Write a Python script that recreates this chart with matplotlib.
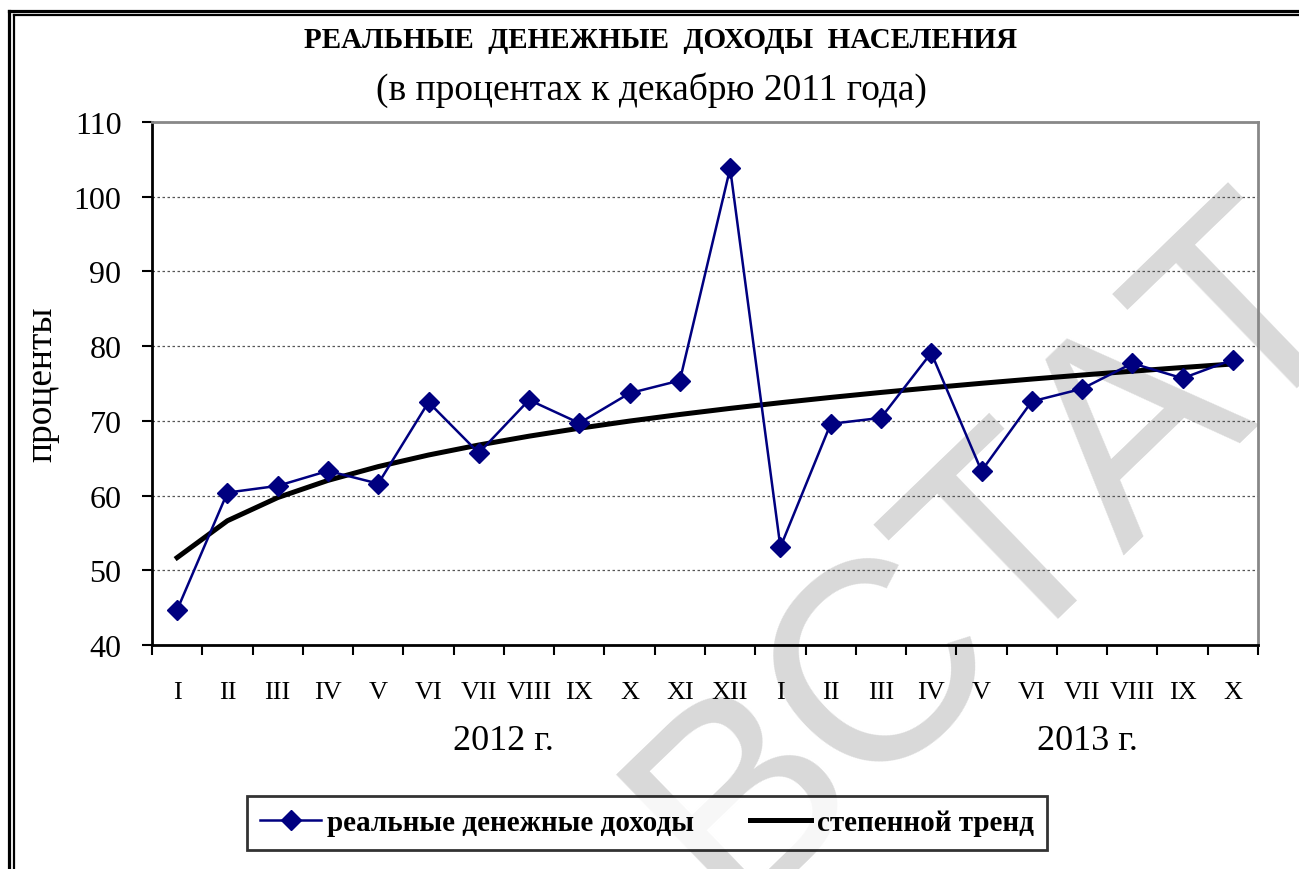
import numpy as np
import matplotlib
matplotlib.use('Agg')
import matplotlib.pyplot as plt
from matplotlib.lines import Line2D
from matplotlib.ticker import FixedLocator, NullFormatter
import matplotlib.transforms as mtransforms


# Data
months = ['I', 'II', 'III', 'IV', 'V', 'VI', 'VII', 'VIII', 'IX', 'X', 'XI', 'XII',
          'I', 'II', 'III', 'IV', 'V', 'VI', 'VII', 'VIII', 'IX', 'X']
income_2012 = [44.7, 60.4, 61.3, 63.3, 61.6, 72.5, 65.7, 72.8, 69.7, 73.7, 75.4, 103.8]
income_2013 = [53.1, 69.6, 70.4, 79.1, 63.3, 72.6, 74.3, 77.7, 75.7, 78.2]
year_labels = ['2012 г.', '2013 г.']
year_label_pos = [7.5, 19.1]

title = 'РЕАЛЬНЫЕ  ДЕНЕЖНЫЕ  ДОХОДЫ  НАСЕЛЕНИЯ'
subtitle = '(в процентах к декабрю 2011 года)'
series_name = 'реальные денежные доходы'
trend_name = 'степенной тренд'

W, H = 1299, 870
serif = 'Liberation Serif'


def fx(px):
    return px / W


def fy(py):
    return 1 - py / H


def main():
    values = np.array(income_2012 + income_2013)
    x = np.arange(1, len(values) + 1)

    # Power trend y = a * x^b (least squares in log-log space)
    b, ln_a = np.polyfit(np.log(x), np.log(values), 1)
    trend = np.exp(ln_a) * x ** b

    fig = plt.figure(figsize=(W / 100, H / 100), dpi=100)
    fig.patch.set_facecolor('white')

    ax = fig.add_axes([fx(152), fy(646), fx(1258 - 152), (646 - 123) / H])
    ax.set_facecolor('none')

    # Watermark (behind the plot)
    fig.text(fx(995), fy(555), 'ВСТАТ', family='Liberation Sans', fontsize=205,
             color='#d9d9d9', rotation=44, ha='center', va='center',
             rotation_mode='anchor', zorder=-5)

    ax.plot(x, values, color='#000080', linewidth=1.8, marker='D', markersize=10,
            markerfacecolor='#000080', markeredgecolor='#000080', zorder=4,
            label=series_name)
    ax.plot(x, trend, color='black', linewidth=3.6, zorder=3, label=trend_name)

    ax.set_xlim(0.5, len(values) + 0.5)
    ax.set_ylim(40, 110)
    ax.set_yticks(np.arange(40, 111, 10))

    ax.yaxis.grid(True, linestyle=(0, (2, 2)), color='#555555', linewidth=0.9)
    ax.set_axisbelow(True)

    for side in ['top', 'right']:
        ax.spines[side].set_color('#888888')
        ax.spines[side].set_linewidth(2)
    for side in ['left', 'bottom']:
        ax.spines[side].set_color('black')
        ax.spines[side].set_linewidth(2)

    ax.tick_params(axis='y', direction='out', length=7, width=1.5, pad=15,
                   labelsize=23)
    for lbl in ax.get_yticklabels():
        lbl.set_family(serif)

    # Month labels at category centres, tick marks at category boundaries
    ax.set_xticks(x)
    ax.set_xticklabels(months, family=serif, fontsize=19)
    ax.tick_params(axis='x', which='major', length=0, pad=26)
    ax.xaxis.set_minor_locator(FixedLocator(np.arange(0.5, len(values) + 1, 1)))
    ax.xaxis.set_minor_formatter(NullFormatter())
    ax.tick_params(axis='x', which='minor', direction='out', length=7, width=1.5)

    trans = mtransforms.blended_transform_factory(ax.transData, ax.transAxes)
    for label, pos in zip(year_labels, year_label_pos):
        ax.text(pos, -0.182, label, transform=trans, ha='center', va='center',
                family=serif, fontsize=26)

    ax.set_ylabel('проценты', family=serif, fontsize=27)
    ax.yaxis.set_label_coords((42 - 152) / (1258 - 152), 0.5)
    ax.yaxis.label.set_va('center')

    fig.text(fx(661), fy(40), title, ha='center', va='center', family=serif,
             fontsize=21, fontweight='bold')
    fig.text(fx(651), fy(90), subtitle, ha='center', va='center', family=serif,
             fontsize=27)

    leg = fig.legend(loc='center', bbox_to_anchor=(fx(647), fy(824)), ncol=2,
                     prop={'family': serif, 'size': 21, 'weight': 'bold'},
                     frameon=True, fancybox=False, handlelength=2.1,
                     handletextpad=0.2, columnspacing=1.9, borderpad=0.45)
    leg.get_frame().set_edgecolor('black')
    leg.get_frame().set_linewidth(2)

    # Double frame around the figure
    for off, lw in [(0, 2.3), (5, 1.6)]:
        top = fy(11.7 + off * 0.9)
        left = fx(9 + off)
        fig.add_artist(Line2D([left, 1], [top, top], color='black', linewidth=lw,
                              transform=fig.transFigure))
        fig.add_artist(Line2D([left, left], [top, 0], color='black', linewidth=lw,
                              transform=fig.transFigure))

    fig.savefig('out.png', dpi=100)
    plt.close(fig)


if __name__ == '__main__':
    main()
